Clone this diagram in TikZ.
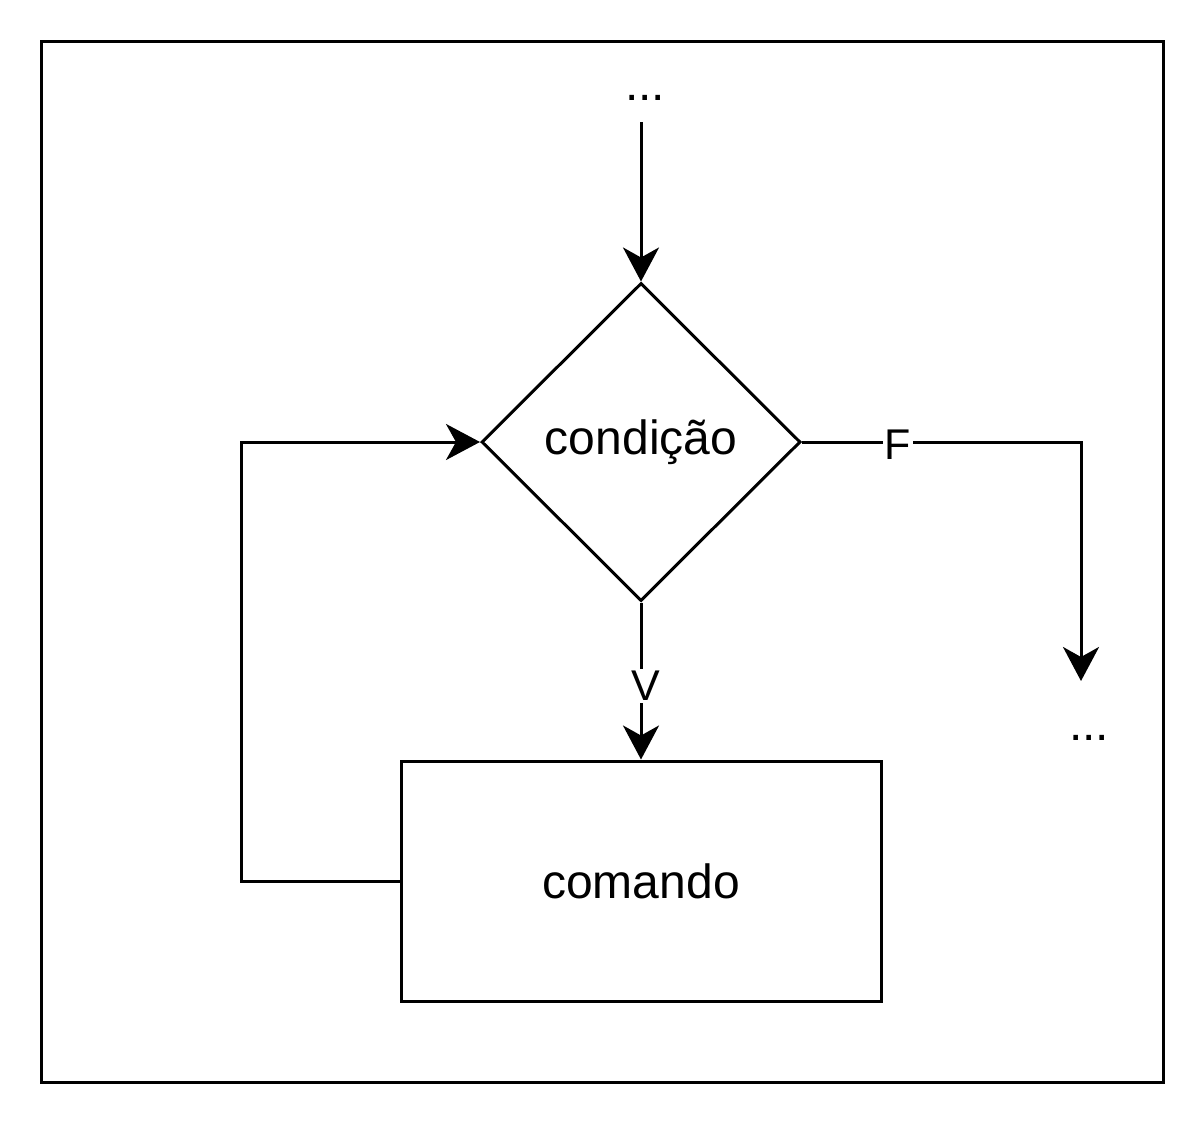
\documentclass[tikz,border=0pt]{standalone}
\usepackage{fontspec}
\setmainfont{Liberation Sans}
\usetikzlibrary{shapes.geometric,arrows.meta}
\begin{document}
\begin{tikzpicture}[x=0.5pt,y=-0.5pt,
  ln/.style={line width=1.5pt},
  arr/.style={ln,-{Stealth[length=17pt,width=18pt,inset=5pt]}},
  lbl/.style={font=\fontsize{21.5}{24}\selectfont, inner sep=1pt},
  txt/.style={font=\fontsize{24}{28}\selectfont}]
\useasboundingbox (0,0) rectangle (1204,1124);
\draw[ln] (41,41) rectangle (1163,1082);
\node[txt, anchor=base] (dtop) at (645,100) {...};
\coordinate (s) at (641,122);
\node[draw, ln, diamond, minimum width=319*0.5pt, minimum height=318*0.5pt, inner sep=0pt, txt] (cond) at (641,442) {condição};
\node[draw, ln, minimum width=480*0.5pt, minimum height=240*0.5pt, txt] (cmd) at (641,881) {comando};
\draw[arr] (s) -- (cond.north);
\draw[arr] (cond.south) -- node[lbl, fill=white, pos=0.53, xshift=2.5pt] {V} (cmd.north);
\draw[arr] (cmd.west) -- (241,881) |- (cond.west);
\coordinate (fe) at (1081,681);
\draw[arr] (cond.east) -- node[lbl, fill=white, pos=0.343, yshift=-1.5pt] {F} (1081,442) -- (fe);
\node[txt, anchor=base] (dbot) at (1089,740) {...};
\end{tikzpicture}
\end{document}
